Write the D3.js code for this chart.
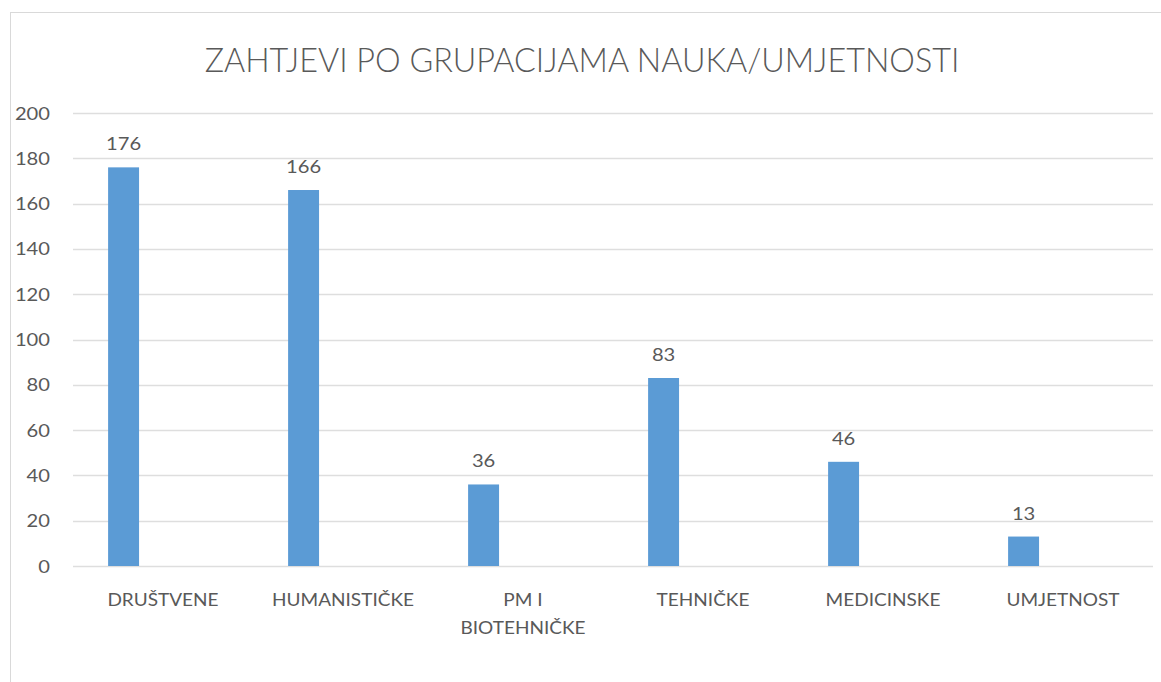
<!DOCTYPE html>
<html>
<head>
<meta charset="utf-8">
<script src="https://cdn.jsdelivr.net/npm/d3@7"></script>
<style>
  html, body { margin: 0; padding: 0; background: #fff; }
  svg { display: block; }
  text { font-family: Lato, "Open Sans", sans-serif; fill: #595959; }
</style>
</head>
<body>
<div id="chart"></div>
<script>
// Data

let categories = [`DRUŠTVENE`, `HUMANISTIČKE`, `PM I BIOTEHNIČKE`, `TEHNIČKE`, `MEDICINSKE`, `UMJETNOST`]
let categoryLines = [[`DRUŠTVENE`], [`HUMANISTIČKE`], [`PM I`, `BIOTEHNIČKE`], [`TEHNIČKE`], [`MEDICINSKE`], [`UMJETNOST`]]
let values = [176, 166, 36, 83, 46, 13]
let yTicks = [0, 20, 40, 60, 80, 100, 120, 140, 160, 180, 200]
let title = `ZAHTJEVI PO GRUPACIJAMA NAUKA/UMJETNOSTI`

// Spatial

let width = 1161
let height = 682
let plot = { left: 73, right: 1153, top: 113, bottom: 566 }
let stretch = 1.12 // the source picture is a bit wider than tall

// Colors

let blue = `#5b9bd5`
let grid = `#dedede`

let svg = d3.select(`#chart`)
  .append(`svg`)
  .attr(`width`, width)
  .attr(`height`, height)

let x = d3.scaleBand()
  .domain(categories)
  .range([plot.left, plot.right])

let y = d3.scaleLinear()
  .domain([0, 200])
  .range([plot.bottom, plot.top])

// horizontally stretched text
let label = (g, tx, ty, str, size, anchor = `middle`, sx = stretch) =>
  g.append(`text`)
    .attr(`transform`, `translate(${tx},${ty}) scale(${sx},1)`)
    .attr(`text-anchor`, anchor)
    .style(`font-size`, `${size}px`)
    .text(str)

// Chart border

svg.append(`rect`)
  .attr(`x`, 10.5)
  .attr(`y`, 12.5)
  .attr(`width`, width)
  .attr(`height`, height)
  .attr(`fill`, `none`)
  .attr(`stroke`, `#d9d9d9`)

// Title

label(svg, 582, 72, title, 33, `middle`, 0.98).style(`font-weight`, 300)

// Gridlines

svg.append(`g`)
  .selectAll(`line`)
  .data(yTicks)
  .join(`line`)
  .attr(`x1`, plot.left)
  .attr(`x2`, plot.right)
  .attr(`y1`, d => Math.round(y(d)) + 0.5)
  .attr(`y2`, d => Math.round(y(d)) + 0.5)
  .attr(`stroke`, grid)
  .attr(`stroke-width`, 1.5)

// y axis labels

let yAxis = svg.append(`g`)
yTicks.forEach(t => label(yAxis, 50, y(t) + 6.5, t, 18, `end`))

// Bars

let barOffset = 0.195
let barWidth = 0.172

svg.append(`g`)
  .selectAll(`rect`)
  .data(values)
  .join(`rect`)
  .attr(`x`, (d, i) => x(categories[i]) + x.bandwidth() * barOffset)
  .attr(`width`, x.bandwidth() * barWidth)
  .attr(`y`, d => y(d))
  .attr(`height`, d => y(0) - y(d))
  .attr(`fill`, blue)

// Data labels

let dataLabels = svg.append(`g`)
values.forEach((d, i) => {
  let cx = x(categories[i]) + x.bandwidth() * (barOffset + barWidth / 2)
  label(dataLabels, cx, y(d) - 17, d, 18)
})

// Category labels

let xAxis = svg.append(`g`)
categoryLines.forEach((lines, i) => {
  let cx = x(categories[i]) + x.bandwidth() / 2
  lines.forEach((line, j) => label(xAxis, cx, 606 + j * 28, line, 17))
})
</script>
</body>
</html>
